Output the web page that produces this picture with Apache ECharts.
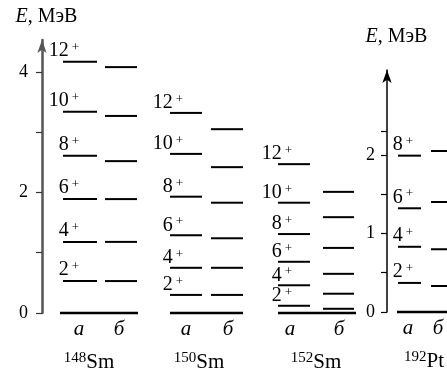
<!DOCTYPE html>
<html><head><meta charset="utf-8">
<script src="https://cdn.jsdelivr.net/npm/echarts@6/dist/echarts.min.js"></script>
<style>html,body{margin:0;padding:0;background:#fff}#c{width:447px;height:376px}</style>
</head><body><div id="c"></div>
<script>
// ---- data ----
const massNumbers = ['148', '150', '152', '192'];
const elements = ['Sm', 'Sm', 'Sm', 'Pt'];
const columnLabels = ['а', 'б'];
const spins = ['2', '4', '6', '8', '10', '12'];
const sm148A = [0.53, 1.18, 1.89, 2.61, 3.34, 4.17];
const sm148B = [0.53, 1.18, 1.89, 2.52, 3.27, 4.08];
const sm150A = [0.30, 0.75, 1.29, 1.93, 2.64, 3.32];
const sm150B = [0.30, 0.75, 1.24, 1.83, 2.42, 3.05];
const sm152A = [0.12, 0.46, 0.85, 1.31, 1.83, 2.47];
const sm152B = [0.07, 0.32, 0.65, 1.08, 1.59, 2.01];
const pt192A = [0.37, 0.83, 1.32, 1.99];
const pt192B = [0.33, 0.80, 1.40, 2.05];
const smTicks = [0, 1, 2, 3, 4];
const smTickLabels = [0, 2, 4];
const ptTicks = [0, 0.5, 1, 1.5, 2, 2.3];
const ptTickLabels = [0, 1, 2];
const axisName = '{i|E}, МэВ';

// ---- layout (pixel units on hidden x axes) ----
const FONT = '"Liberation Serif", "Times New Roman", serif';
const layout = [
  { a: [63, 97], b: [105, 137], ground: [60, 138], labelRight: 79, lift: 1, colLabel: [79, 119], name: 89 },
  { a: [170, 202], b: [211, 243], ground: [170, 243], labelRight: 183, lift: 0, colLabel: [186, 228], name: 199 },
  { a: [278, 310], b: [323, 354], ground: [278, 356], labelRight: 292, lift: 0, colLabel: [290, 339], name: 316 },
  { a: [398, 421], b: [431, 470], ground: [397, 470], labelRight: 413, lift: 1, colLabel: [408, 438], name: 424 }
];
const energies = [[sm148A, sm148B], [sm150A, sm150B], [sm152A, sm152B], [pt192A, pt192B]];

function makeRender(n) {
  const L = layout[n];
  return function (params, api) {
    const col = api.value(0), E = api.value(1), k = api.value(2);
    if (col === -1) {
      const p0 = api.coord([L.ground[0], 0]);
      const p1 = api.coord([L.ground[1], 0]);
      const children = [{
        type: 'line', shape: { x1: p0[0], y1: p0[1], x2: p1[0], y2: p1[1] },
        style: { stroke: '#000', lineWidth: 2.5 }
      }];
      columnLabels.forEach(function (t, j) {
        const px = api.coord([L.colLabel[j], 0])[0];
        children.push({
          type: 'text',
          style: { text: t, x: px, y: p0[1] + 16, align: 'center', verticalAlign: 'middle',
            font: 'italic 21px ' + FONT, fill: '#000' }
        });
      });
      const pn = api.coord([L.name, 0])[0];
      children.push({
        type: 'text',
        style: {
          text: '{m|' + massNumbers[n] + '}{e|' + elements[n] + '}',
          x: pn, y: p0[1] + 49, align: 'center', verticalAlign: 'middle',
          rich: {
            m: { fontSize: 15, fontFamily: FONT, fill: '#000', verticalAlign: 'top', lineHeight: 11 },
            e: { fontSize: 21, fontFamily: FONT, fill: '#000', lineHeight: 22 }
          }
        }
      });
      return { type: 'group', children: children };
    }
    const seg = col === 0 ? L.a : L.b;
    const q0 = api.coord([seg[0], E]);
    const q1 = api.coord([seg[1], E]);
    const children = [{
      type: 'line', shape: { x1: q0[0], y1: q0[1], x2: q1[0], y2: q1[1] },
      style: { stroke: '#000', lineWidth: 2 }
    }];
    if (col === 0) {
      const lx = api.coord([L.labelRight, E])[0];
      children.push({
        type: 'text',
        style: {
          text: '{d|' + spins[k] + '}{s|+}',
          x: lx, y: q0[1] - L.lift, align: 'right', verticalAlign: 'bottom',
          rich: {
            d: { fontSize: 20, fontFamily: FONT, fill: '#000', lineHeight: 20 },
            s: { fontSize: 13, fontFamily: FONT, fill: '#000', verticalAlign: 'top', lineHeight: 8, padding: [0, 0, 0, 3] }
          }
        }
      });
    }
    return { type: 'group', children: children };
  };
}

const series = energies.map(function (pair, n) {
  const data = [];
  pair.forEach(function (arr, col) {
    arr.forEach(function (E, k) { data.push([col, E, k]); });
  });
  data.push([-1, 0, -1]);
  const idx = n < 3 ? 0 : 1;
  return {
    type: 'custom', xAxisIndex: idx, yAxisIndex: idx, clip: false,
    renderItem: makeRender(n), data: data, silent: true, animation: false
  };
});

function yAxisCommon(opts, shift) {
  return Object.assign({
    type: 'value', min: 0, position: 'left', splitLine: { show: false },
    name: axisName, nameLocation: 'end',
    nameTextStyle: {
      fontFamily: FONT, fontSize: 20, color: '#000', padding: [0, 0, 0, shift],
      rich: { i: { fontFamily: FONT, fontSize: 20, fontStyle: 'italic', color: '#000' } }
    }
  }, opts);
}

const chart = echarts.init(document.getElementById('c'), null, { renderer: 'canvas' });
chart.setOption({
  animation: false,
  backgroundColor: '#fff',
  grid: [
    { left: 42, right: 0, top: 40, bottom: 63, outerBoundsMode: 'none', containLabel: false },
    { left: 387, right: 0, top: 70, bottom: 64, outerBoundsMode: 'none', containLabel: false }
  ],
  xAxis: [
    { type: 'value', gridIndex: 0, min: 42, max: 447, show: false },
    { type: 'value', gridIndex: 1, min: 387, max: 447, show: false }
  ],
  yAxis: [
    yAxisCommon({
      gridIndex: 0, max: 4.53, nameGap: 13,
      axisLine: { show: true, symbol: ['none', 'arrow'], symbolSize: [7, 13], lineStyle: { color: '#555', width: 2.5 } },
      axisTick: { show: true, customValues: smTicks, length: 6, lineStyle: { color: '#333', width: 1.2 } },
      axisLabel: { customValues: smTickLabels, fontFamily: FONT, fontSize: 18, color: '#000', margin: 14 }
    }, 9),
    yAxisCommon({
      gridIndex: 1, max: 3.08, nameGap: 23,
      axisLine: { show: true, symbol: ['none', 'arrow'], symbolSize: [7, 13], lineStyle: { color: '#000', width: 1.5 } },
      axisTick: { show: true, customValues: ptTicks, length: 6, lineStyle: { color: '#000', width: 1.2 } },
      axisLabel: { customValues: ptTickLabels, fontFamily: FONT, fontSize: 18, color: '#000', margin: 12 }
    }, 19)
  ],
  series: series
});
</script>
</body></html>
